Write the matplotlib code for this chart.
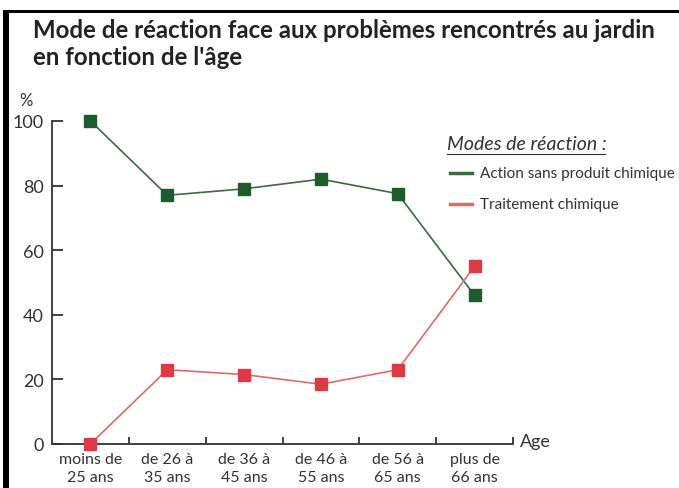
import matplotlib
matplotlib.use("Agg")
import matplotlib.pyplot as plt
from matplotlib.patches import Rectangle
from matplotlib.lines import Line2D

categories = ["moins de\n25 ans", "de 26 à\n35 ans", "de 36 à\n45 ans",
              "de 46 à\n55 ans", "de 56 à\n65 ans", "plus de\n66 ans"]
sans_chimique = [100, 77, 79, 82, 77.5, 46]
chimique = [0, 23, 21.5, 18.5, 23, 55]
yticks = [0, 20, 40, 60, 80, 100]

title = "Mode de réaction face aux problèmes rencontrés au jardin\nen fonction de l'âge"
legend_title = "Modes de réaction :"
labels = ["Action sans produit chimique", "Traitement chimique"]

plt.rcParams['font.family'] = ['Lato', 'DejaVu Sans']

W, H = 679, 489
fig = plt.figure(figsize=(W / 100, H / 100), dpi=100)
fig.patch.set_facecolor('white')

# frame (black top and left border)
fig.add_artist(Rectangle((3 / W, 0), 6 / W, 1 - 11 / H, transform=fig.transFigure,
                         color='black', lw=0))
fig.add_artist(Rectangle((3 / W, 1 - 14 / H), 1, 3 / H, transform=fig.transFigure,
                         color='black', lw=0))

ax = fig.add_axes([52 / W, 1 - 445 / H, (513 - 52) / W, (445 - 122) / H])
ax.set_facecolor('none')

x = list(range(len(categories)))
green_line, green_mk = '#3b6b42', '#1f5b2d'
red_line, red_mk = '#e06a66', '#dc3a44'

ax.plot(x, sans_chimique, color=green_line, lw=1.2, marker='s', ms=8.5,
        mfc=green_mk, mec=green_mk, clip_on=False, zorder=3)
ax.plot(x, chimique, color=red_line, lw=1.2, marker='s', ms=8.5,
        mfc=red_mk, mec=red_mk, clip_on=False, zorder=3)

ax.set_xlim(-0.5, len(categories) - 0.5)
ax.set_ylim(0, 100)

for s in ['top', 'right']:
    ax.spines[s].set_visible(False)
for s in ['left', 'bottom']:
    ax.spines[s].set_color('#333333')
    ax.spines[s].set_linewidth(1.3)

ax.set_yticks(yticks)
ax.set_yticklabels([str(v) for v in yticks], fontsize=13, color='#333333')
ax.tick_params(axis='y', direction='in', length=8, width=1.3, color='#333333', pad=6)

ax.set_xticks([i + 0.5 for i in range(len(categories))])
ax.set_xticklabels([])
ax.tick_params(axis='x', direction='in', length=5, width=1.3, color='#333333')
ax.set_xticks(x, minor=True)
ax.set_xticklabels(categories, minor=True, fontsize=11.5, color='#333333',
                   linespacing=1.35)
ax.tick_params(axis='x', which='minor', length=0, pad=6)

ax.text(-0.057, 1.065, "%", transform=ax.transAxes, fontsize=12, color='#333333',
        ha='center', va='center')
ax.text(1.015, 0.01, "Age", transform=ax.transAxes, fontsize=13, color='#333333',
        ha='left', va='center')

fig.text(33 / W, 1 - 19 / H, title, fontsize=17.3, fontweight='bold', color='#222222',
         ha='left', va='top', linespacing=1.2)

# legend
fig.text(447 / W, 1 - 144 / H, legend_title, fontsize=14, style='italic',
         color='#333333', ha='left', va='center')
fig.add_artist(Line2D([447 / W, 605 / W], [1 - 155 / H, 1 - 155 / H],
                      transform=fig.transFigure, color='#333333', lw=0.8))
for yy, col, lab in [(174, green_line, labels[0]), (205, red_line, labels[1])]:
    fig.add_artist(Line2D([450 / W, 472 / W], [1 - yy / H, 1 - yy / H],
                          transform=fig.transFigure, color=col, lw=2.5))
    fig.text(480 / W, 1 - yy / H, lab, fontsize=11, color='#333333',
             ha='left', va='center')

fig.savefig("out.png", dpi=100, facecolor='white')
